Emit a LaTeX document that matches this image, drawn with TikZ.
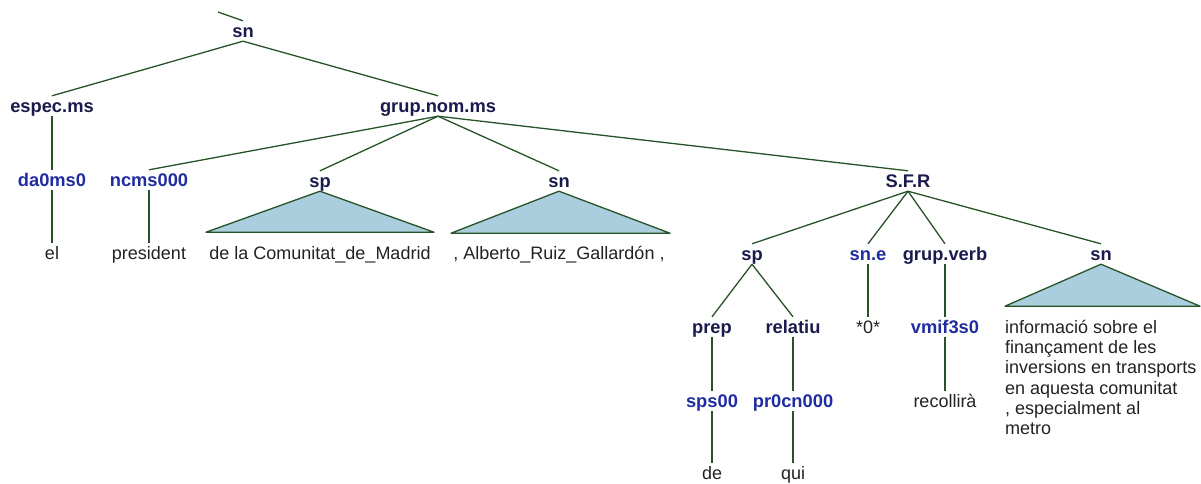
\documentclass[tikz,border=0pt]{standalone}
\usepackage{fontspec}
\setmainfont{Liberation Sans}
\definecolor{navy}{RGB}{26,26,78}
\definecolor{posblue}{RGB}{32,44,160}
\definecolor{edge}{RGB}{40,82,40}
\definecolor{trifill}{RGB}{170,206,222}
\definecolor{leaftext}{RGB}{34,34,34}
\begin{document}
\begin{tikzpicture}[x=1pt,y=-1pt,
  basestyle/.style={inner sep=0pt,minimum height=20pt,text height=15pt,text depth=2pt,font=\fontsize{18}{21}\selectfont},
  cat/.style={basestyle,text=navy,font=\fontsize{18.3}{21}\selectfont\bfseries},
  postag/.style={basestyle,text=posblue,font=\fontsize{18.3}{21}\selectfont\bfseries},
  leaf/.style={basestyle,text=leaftext},
  edgeline/.style={draw=edge,line width=1.3pt},
  tri/.style={draw=edge,line width=1.3pt,fill=trifill,line join=round}]
\useasboundingbox (0,0) rectangle (1201,483);
% nodes
\node[cat] (sn0) at (243,31) {sn};
\coordinate (stub) at (218,12);
\node[cat] (espec) at (52,106) {espec.ms};
\node[cat] (grup) at (438,106) {grup.nom.ms};
\node[postag] (da0) at (52,180) {da0ms0};
\node[leaf] (el) at (52,253) {el};
\node[postag] (ncms) at (149,180) {ncms000};
\node[leaf] (pres) at (149,253) {president};
\node[cat] (sp1) at (320,181) {sp};
\node[leaf] (sp1t) at (320,253) {de la Comunitat\_de\_Madrid};
\node[cat] (sn1) at (559,181) {sn};
\node[leaf] (sn1t) at (559,253) {, Alberto\_Ruiz\_Gallard\'on ,};
\node[cat] (sfr) at (908,181) {S.F.R};
\node[cat] (sp2) at (752,254) {sp};
\node[postag] (sne) at (868,254) {sn.e};
\node[cat] (gv) at (945,254) {grup.verb};
\node[cat] (sn2) at (1101,254) {sn};
\node[cat] (prep) at (712,327) {prep};
\node[cat] (rel) at (793,327) {relatiu};
\node[leaf] (zero) at (868,327) {*0*};
\node[postag] (vmif) at (945,327) {vmif3s0};
\node[postag] (sps) at (712,401) {sps00};
\node[postag] (pr0) at (793,401) {pr0cn000};
\node[leaf] (recol) at (945,401) {recollir\`a};
\node[leaf] (de) at (712,473) {de};
\node[leaf] (qui) at (793,473) {qui};
\node[anchor=north west,inner sep=0pt,align=left,text=leaftext,
  font=\fontsize{18}{20.2}\selectfont] (sn2t) at (1005,320)
  {informaci\'o sobre el\\finan\c{c}ament de les\\inversions en transports\\en aquesta comunitat\\, especialment al\\metro};
% edges
\draw[edgeline] (stub) -- (sn0.north);
\draw[edgeline] (sn0.south) -- (espec.north);
\draw[edgeline] (sn0.south) -- (grup.north);
\draw[edgeline] (espec.south) -- (da0.north);
\draw[edgeline] (da0.south) -- (el.north);
\draw[edgeline] (grup.south) -- (ncms.north);
\draw[edgeline] (grup.south) -- (sp1.north);
\draw[edgeline] (grup.south) -- (sn1.north);
\draw[edgeline] (grup.south) -- (sfr.north);
\draw[edgeline] (ncms.south) -- (pres.north);
\draw[tri] (sp1.south) -- ++(-114,41) -- ++(228,0) -- cycle;
\draw[tri] (sn1.south) -- ++(-108,42) -- ++(219,0) -- cycle;
\draw[edgeline] (sfr.south) -- (sp2.north);
\draw[edgeline] (sfr.south) -- (sne.north);
\draw[edgeline] (sfr.south) -- (gv.north);
\draw[edgeline] (sfr.south) -- (sn2.north);
\draw[tri] (sn2.south) -- ++(-96,42) -- ++(195,0) -- cycle;
\draw[edgeline] (sp2.south) -- (prep.north);
\draw[edgeline] (sp2.south) -- (rel.north);
\draw[edgeline] (sne.south) -- (zero.north);
\draw[edgeline] (gv.south) -- (vmif.north);
\draw[edgeline] (vmif.south) -- (recol.north);
\draw[edgeline] (prep.south) -- (sps.north);
\draw[edgeline] (rel.south) -- (pr0.north);
\draw[edgeline] (sps.south) -- (de.north);
\draw[edgeline] (pr0.south) -- (qui.north);
\end{tikzpicture}
\end{document}
